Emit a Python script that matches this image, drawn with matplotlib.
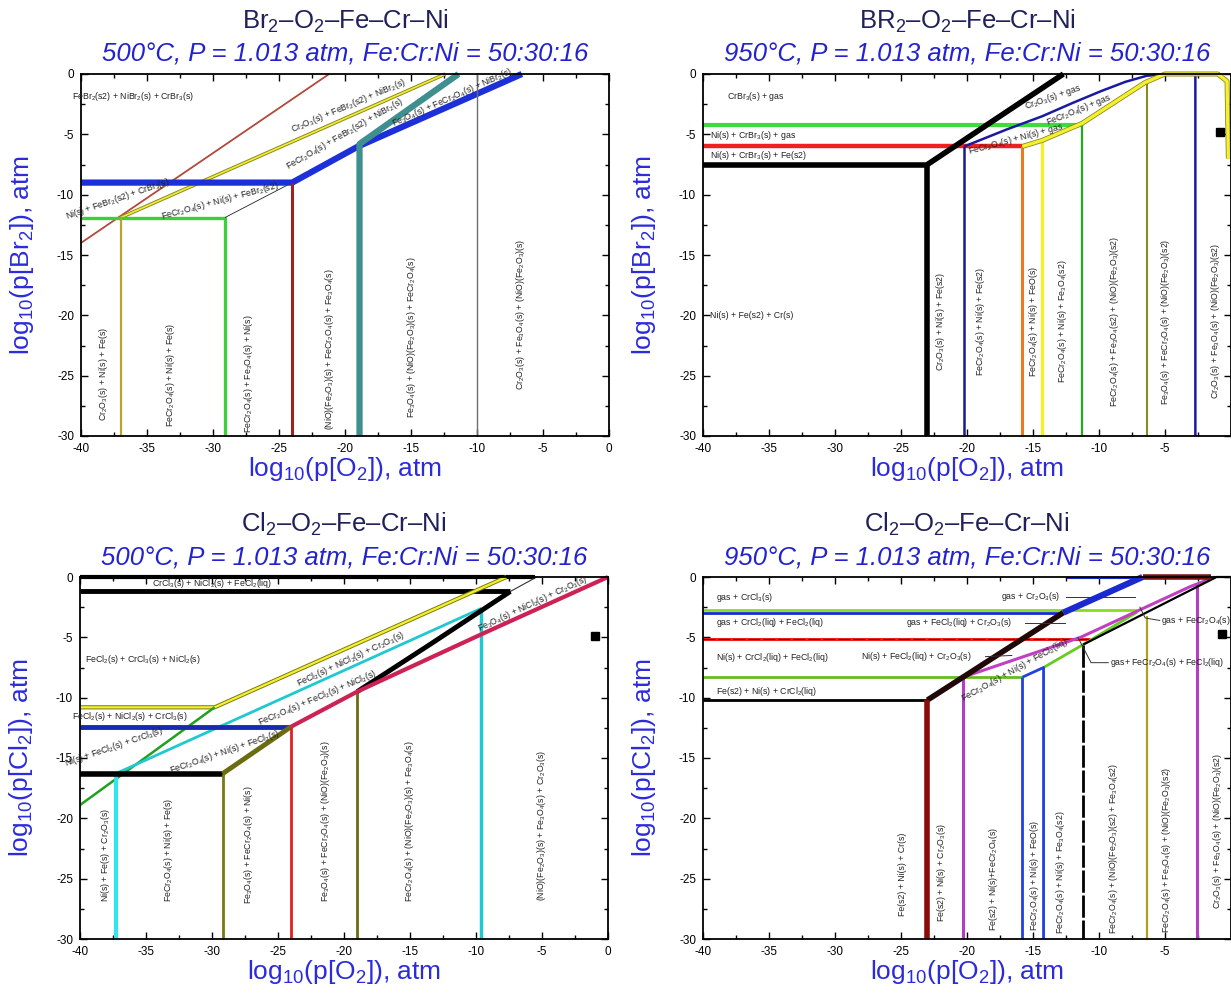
import re
import matplotlib
matplotlib.use("Agg")
import matplotlib.pyplot as plt
import matplotlib.patheffects as pe
from matplotlib.ticker import MultipleLocator, FuncFormatter

plt.rcParams['font.family'] = ['Liberation Sans', 'DejaVu Sans']
plt.rcParams['mathtext.fontset'] = 'custom'
plt.rcParams['mathtext.rm'] = 'Liberation Sans'
plt.rcParams['mathtext.it'] = 'Liberation Sans:italic'
plt.rcParams['mathtext.bf'] = 'Liberation Sans:bold'
plt.rcParams['axes.unicode_minus'] = False

# ---------------- data: Br2, 500 C ----------------
br500_lines = {
    'brick': ([-40, -21.2], [-14.0, 0]),
    'yellow': ([-37, -12.4], [-11.9, 0]),
    'green': ([-40, -29.1, -29.1], [-11.9, -11.9, -30]),
    'olive': ([-37, -37], [-11.9, -30]),
    'thin': ([-29.1, -24, -19], [-11.9, -9.0, -5.8]),
    'blue': ([-40, -24, -19, -6.6], [-9.0, -9.0, -6.0, 0]),
    'maroon': ([-24, -24], [-9.0, -30]),
    'teal': ([-11.4, -18.9, -18.9], [0, -5.8, -30]),
    'grey': ([-10, -10], [0, -30]),
}
br500_labels = [
    ("FeBr_2(s2) + NiBr_2(s) + CrBr_3(s)", -40.7, -1.9, 0, 'left'),
    ("Cr_2O_3(s) + FeBr_2(s2) + NiBr_2(s)", -19.7, -2.6, 23, 'center'),
    ("FeCr_2O_4(s) + FeBr_2(s2) + NiBr_2(s)", -20.0, -5.0, 30, 'center'),
    ("Fe_3O_4(s) + FeCr_2O_4(s) + NiBr_2(s)", -11.9, -1.9, 24, 'center'),
    ("Ni(s) + FeBr_2(s2) + CrBr_3(s)", -37.2, -10.4, 19, 'center'),
    ("FeCr_2O_4(s) + Ni(s) + FeBr_2(s2)", -29.5, -10.5, 15, 'center'),
]
br500_vlabels = [
    ("Cr_2O_3(s) + Ni(s) + Fe(s)", -38.3, -24.9),
    ("FeCr_2O_4(s) + Ni(s) + Fe(s)", -33.2, -24.9),
    ("FeCr_2O_4(s) + Fe_3O_4(s) + Ni(s)", -27.3, -24.8),
    ("(NiO)(Fe_2O_3)(s) + FeCr_2O_4(s) + Fe_3O_4(s)", -21.2, -22.8),
    ("Fe_3O_4(s) + (NiO)(Fe_2O_3)(s) + FeCr_2O_4(s)", -15.0, -21.8),
    ("Cr_2O_3(s) + Fe_3O_4(s) + (NiO)(Fe_2O_3)(s)", -6.7, -19.9),
]

# ---------------- data: Br2, 950 C ----------------
br950_lines = {
    'green_h': ([-40, -11.3], [-4.2, -4.2]),
    'green_v': ([-11.3, -11.3], [-4.2, -30]),
    'red': ([-40, -15.8], [-6.0, -6.0]),
    'orange': ([-15.8, -15.8], [-6.0, -30]),
    'navy_v': ([-20.2, -20.2], [-6.0, -30]),
    'navy': ([-20.2, -17, -14.3, -12, -9.8, -8, -6.4, -5, -2.7, -2.7],
             [-6.0, -4.6, -3.5, -2.4, -1.4, -0.65, -0.15, 0, 0, -30]),
    'yellow_v': ([-14.3, -14.3], [-5.5, -30]),
    'yellow': ([-15.8, -14.3, -11.3, -6.5, -5, -1, -0.3, -0.2],
               [-6.0, -5.5, -4.1, -0.7, 0, 0, -0.6, -7.0]),
    'olive': ([-6.4, -6.4], [-0.8, -30]),
    'black': ([-40, -23, -23], [-7.5, -7.5, -30]),
    'black_d': ([-23, -12.7], [-7.5, 0]),
}
br950_labels = [
    ("CrBr_3(s) + gas", -38.2, -1.9, 0, 'left'),
    ("Ni(s) + CrBr_3(s) + gas", -39.5, -5.1, 0, 'left'),
    ("Ni(s) + CrBr_3(s) + Fe(s2)", -39.5, -6.75, 0, 'left'),
    ("Ni(s) + Fe(s2) + Cr(s)", -39.5, -20.0, 0, 'left'),
    ("Cr_2O_3(s) + gas", -13.5, -1.95, 19, 'center'),
    ("FeCr_2O_4(s) + gas", -11.5, -3.0, 22, 'center'),
    ("FeCr_2O_4(s) + Ni(s) + gas", -16.3, -5.4, 15, 'center'),
]
br950_vlabels = [
    ("Cr_2O_3(s) + Ni(s) + Fe(s2)", -22.0, -20.5),
    ("FeCr_2O_4(s) + Ni(s) + Fe(s2)", -19.0, -20.5),
    ("FeCr_2O_4(s) + Ni(s) + FeO(s)", -15.0, -20.5),
    ("FeCr_2O_4(s) + Ni(s) + Fe_3O_4(s2)", -12.8, -20.5),
    ("FeCr_2O_4(s) + Fe_3O_4(s2) + (NiO)(Fe_2O_3)(s2)", -8.8, -20.5),
    ("Fe_3O_4(s) + FeCr_2O_4(s) + (NiO)(Fe_2O_3)(s2)", -5.0, -20.5),
    ("Cr_2O_3(s) + Fe_3O_4(s) + (NiO)(Fe_2O_3)(s2)", -1.2, -20.5),
]

# ---------------- data: Cl2, 500 C ----------------
cl500_lines = {
    'black_top': ([-40, -5.5], [0, 0]),
    'black_up': ([-40, -7.4], [-1.2, -1.2]),
    'thin': ([-7.4, -5.4], [-1.2, 0]),
    'yellow': ([-40, -29.8, -7.7], [-10.8, -10.8, 0]),
    'green': ([-40, -29.8], [-18.9, -10.8]),
    'cyan_d': ([-37.3, -9.6], [-16.3, -2.6]),
    'cyan_v1': ([-37.3, -37.3], [-16.3, -30]),
    'cyan_v2': ([-9.6, -9.6], [-2.6, -30]),
    'blue': ([-40, -24], [-12.4, -12.4]),
    'black_lo': ([-40, -29.2], [-16.3, -16.3]),
    'olive_d': ([-29.2, -24], [-16.3, -12.4]),
    'olive_v1': ([-29.2, -29.2], [-16.3, -30]),
    'olive_v2': ([-19, -19], [-9.5, -30]),
    'black_d': ([-7.4, -13.5, -19], [-1.2, -5.6, -9.5]),
    'crimson': ([0, -9.5, -19, -24], [0, -4.7, -9.5, -12.4]),
    'red_v': ([-24, -24], [-12.4, -30]),
}
cl500_labels = [
    ("CrCl_3(s) + NiCl_2(s) + FeCl_2(liq)", -30.0, -0.55, 0, 'center'),
    ("FeCl_2(s) + CrCl_3(s) + NiCl_2(s)", -39.6, -6.8, 0, 'left'),
    ("FeCl_2(s) + NiCl_2(s) + CrCl_3(s)", -40.6, -11.6, 0, 'left'),
    ("Ni(s) + FeCl_2(s) + CrCl_3(s)", -37.4, -14.1, 19, 'center'),
    ("FeCr_2O_4(s) + Ni(s) + FeCl_2(s)", -29.0, -14.5, 19, 'center'),
    ("FeCl_2(s) + NiCl_2(s) + Cr_2O_3(s)", -19.5, -6.8, 25, 'center'),
    ("FeCr_2O_4(s) + FeCl_2(s) + NiCl_2(s)", -22.0, -10.0, 23, 'center'),
    ("Fe_3O_4(s) + NiCl_2(s) + Cr_2O_3(s)", -5.7, -2.2, 25, 'center'),
]
cl500_vlabels = [
    ("Ni(s) + Fe(s) + Cr_2O_3(s)", -38.1, -23.0),
    ("FeCr_2O_4(s) + Ni(s) + Fe(s)", -33.3, -22.6),
    ("Fe_3O_4(s) + FeCr_2O_4(s) + Ni(s)", -27.2, -22.2),
    ("Fe_3O_4(s) + FeCr_2O_4(s) + (NiO)(Fe_2O_3)(s)", -21.4, -20.2),
    ("FeCr_2O_4(s) + (NiO)(Fe_2O_3)(s) + Fe_3O_4(s)", -15.0, -20.2),
    ("(NiO)(Fe_2O_3)(s) + Fe_3O_4(s) + Cr_2O_3(s)", -5.0, -20.6),
]

# ---------------- data: Cl2, 950 C ----------------
cl950_lines = {
    'green_top': ([-40, -7.1], [-2.75, -2.75]),
    'blue_h': ([-40, -12.7], [-2.95, -2.95]),
    'blue_top': ([-12.4, -6.7], [-0.05, -0.05]),
    'red_dash': ([-40, -10.7], [-5.1, -5.1]),
    'green_mid': ([-40, -15.8], [-8.3, -8.3]),
    'green_d': ([-14.2, -11.2, -7.1], [-7.5, -5.6, -2.9]),
    'blue_v': ([-15.8, -15.8], [-8.3, -30]),
    'blue_v2': ([-15.8, -14.2, -14.2], [-8.3, -7.5, -30]),
    'magenta': ([-20.3, -11.4, -3.1, -1.2], [-8.3, -5.0, -0.8, 0]),
    'magenta_v1': ([-20.3, -20.3], [-8.3, -30]),
    'magenta_v2': ([-2.6, -2.6], [-0.6, -30]),
    'black_dash': ([-11.2, -11.2], [-5.6, -30]),
    'olive_v': ([-6.4, -6.4], [-3.2, -30]),
    'black_thin': ([-11.2, -1.1, 0], [-5.6, 0, 0]),
    'black_h': ([-40, -23], [-10.2, -10.2]),
    'black_d': ([-23, -12.7], [-10.2, -2.95]),
    'blue_d': ([-12.7, -6.7], [-2.95, 0]),
    'maroon_v': ([-23, -23], [-10.2, -30]),
    'maroon_top': ([-6.7, -1.5], [0, 0]),
}
cl950_leaders = [
    ([-12.5, -7.3], [-1.65, -1.65]),
    ([-15.6, -12.6], [-3.8, -3.8]),
    ([-18.6, -16.6], [-6.6, -6.5]),
    ([-6.9, -6.5, -5.4], [-2.5, -3.4, -3.6]),
    ([-11.6, -10.6, -9.3], [-5.0, -7.1, -7.1]),
]
cl950_labels = [
    ("gas + CrCl_3(s)", -39.0, -1.7, 0, 'left'),
    ("gas + CrCl_2(liq) + FeCl_2(liq)", -39.0, -3.75, 0, 'left'),
    ("Ni(s) + CrCl_2(liq) + FeCl_2(liq)", -39.0, -6.7, 0, 'left'),
    ("Fe(s2) + Ni(s) + CrCl_2(liq)", -39.0, -9.5, 0, 'left'),
    ("gas + Cr_2O_3(s)", -17.4, -1.6, 0, 'left'),
    ("gas + FeCl_2(liq) + Cr_2O_3(s)", -24.6, -3.8, 0, 'left'),
    ("Ni(s) + FeCl_2(liq) + Cr_2O_3(s)", -28.0, -6.6, 0, 'left'),
    ("gas + FeCr_2O_4(s)", -5.3, -3.6, 0, 'left'),
    ("gas+ FeCr_2O_4(s) + FeCl_2(liq)", -9.2, -7.1, 0, 'left'),
    ("FeCr_2O_4(s) + Ni(s) + FeCl_2(liq)", -16.4, -7.7, 29, 'center'),
]
cl950_vlabels = [
    ("Fe(s2) + Ni(s) + Cr(s)", -24.9, -24.6),
    ("Fe(s2) + Ni(s) + Cr_2O_3(s)", -21.9, -24.5),
    ("Fe(s2) + Ni(s)+FeCr_2O_4(s)", -18.0, -25.0),
    ("FeCr_2O_4(s) + Ni(s) + FeO(s)", -14.9, -24.7),
    ("FeCr_2O_4(s) + Ni(s) + Fe_3O_4(s2)", -12.9, -24.5),
    ("FeCr_2O_4(s) + (NiO)(Fe_2O_3)(s2) + Fe_3O_4(s2)", -8.9, -22.5),
    ("FeCr_2O_4(s) + Fe_3O_4(s) + (NiO)(Fe_2O_3)(s2)", -4.9, -22.6),
    ("Cr_2O_3(s) + Fe_3O_4(s) + (NiO)(Fe_2O_3)(s2)", -1.0, -21.0),
]

# black square marker seen near right edge
square_pts = {'br950': (-0.8, -4.8), 'cl500': (-1.0, -4.9), 'cl950': (-0.7, -4.7)}


def edged(color, lw, edge, elw):
    return dict(color=color, lw=lw,
                path_effects=[pe.Stroke(linewidth=elw, foreground=edge), pe.Normal()])


br500_style = {
    'brick': dict(color='#b3483c', lw=1.3),
    'yellow': edged('#f2ec3a', 1.2, '#8c8a1c', 2.6),
    'green': dict(color='#3ccf3c', lw=2.4),
    'olive': dict(color='#b9a52a', lw=1.6),
    'thin': dict(color='#222222', lw=0.6),
    'blue': dict(color='#1c2fd8', lw=4.5),
    'maroon': dict(color='#9c2424', lw=2.2),
    'teal': dict(color='#3f8f8f', lw=4.5),
    'grey': dict(color='#6e6e6e', lw=1.0),
}
br950_style = {
    'green_h': dict(color='#3cdc3c', lw=3.0),
    'green_v': dict(color='#22aa22', lw=1.6),
    'red': dict(color='#ee2020', lw=3.2),
    'orange': dict(color='#f07820', lw=2.2),
    'navy_v': dict(color='#1a1a90', lw=1.8),
    'navy': dict(color='#1a1aa0', lw=1.8),
    'yellow_v': dict(color='#f4f030', lw=2.4),
    'yellow': edged('#f4f030', 2.4, '#8c8a1c', 3.6),
    'olive': dict(color='#8a8a20', lw=1.5),
    'black': dict(color='black', lw=4.0),
    'black_d': dict(color='black', lw=4.0),
}
cl500_style = {
    'black_top': dict(color='black', lw=3.0),
    'black_up': dict(color='black', lw=3.5),
    'thin': dict(color='#333333', lw=0.8),
    'yellow': edged('#f4f030', 1.6, '#7a7a10', 3.0),
    'green': dict(color='#20a020', lw=1.8),
    'cyan_d': dict(color='#20c8d0', lw=2.0),
    'cyan_v1': dict(color='#30e6ee', lw=3.0),
    'cyan_v2': dict(color='#20c8d0', lw=2.5),
    'blue': dict(color='#1a2ab0', lw=3.5),
    'black_lo': dict(color='black', lw=4.0),
    'olive_d': dict(color='#6b6b10', lw=3.5),
    'olive_v1': dict(color='#7a7a10', lw=2.0),
    'olive_v2': dict(color='#6b6b10', lw=2.0),
    'black_d': dict(color='black', lw=3.5),
    'crimson': dict(color='#cc2255', lw=3.0),
    'red_v': dict(color='#e02020', lw=2.0),
}
cl950_style = {
    'green_top': dict(color='#88dd22', lw=2.0),
    'blue_h': dict(color='#1a2ad0', lw=2.0),
    'blue_top': dict(color='#1a2ad0', lw=1.5),
    'red_dash': dict(color='#e82020', lw=2.2),
    'green_mid': dict(color='#66bb22', lw=2.0),
    'green_d': dict(color='#66cc22', lw=2.0),
    'blue_v': dict(color='#2040e0', lw=2.0),
    'blue_v2': dict(color='#2040e0', lw=2.0),
    'magenta': dict(color='#c040c0', lw=2.2),
    'magenta_v1': dict(color='#b040c0', lw=2.2),
    'magenta_v2': dict(color='#b040c0', lw=2.2),
    'black_dash': dict(color='black', lw=2.0, ls=(0, (8, 1))),
    'olive_v': dict(color='#b0a020', lw=1.6),
    'black_thin': dict(color='black', lw=1.6),
    'black_h': dict(color='black', lw=2.0),
    'black_d': dict(color='#200808', lw=4.0),
    'blue_d': dict(color='#1a2ad0', lw=4.5),
    'maroon_v': dict(color='#8b0a0a', lw=4.0),
    'maroon_top': dict(color='#7a1010', lw=4.0),
}


def chem(s):
    return re.sub(r'_(\d+)', r'$_{\1}$', s)


fig = plt.figure(figsize=(12.31, 9.98), dpi=100)
W, H = 1231.0, 998.0
AX_W, AX_H = 528, 362
LBL = 6.3


def xfmt(v, pos, hide_zero):
    if hide_zero and abs(v) < 1e-9:
        return ''
    return f"{v:.0f}"


def panel(rect_px, lines, styles, labels, vlabels, title, subtitle, yname,
          square=None, hide_zero=False):
    left, top = rect_px
    ax = fig.add_axes([left / W, 1 - (top + AX_H) / H, AX_W / W, AX_H / H])
    for name, (xs, ys) in lines.items():
        ax.plot(xs, ys, clip_on=False, solid_capstyle='butt', **styles[name])
        if name == 'red_dash':
            ax.plot(xs, ys, color='#111111', lw=0.6, ls=(0, (14, 4)), clip_on=False)
    for text, x, y, rot, ha in labels:
        ax.text(x, y, chem(text), fontsize=LBL, color='#222222', rotation=rot,
                ha=ha, va='center', rotation_mode='anchor', clip_on=False)
    for text, x, y in vlabels:
        ax.text(x, y, chem(text), fontsize=LBL, color='#222222', rotation=90,
                ha='center', va='center')
    if square is not None:
        ax.plot(*square, marker='s', ms=6, color='black', clip_on=False)
    ax.set_xlim(-40, 0)
    ax.set_ylim(-30, 0)
    ax.xaxis.set_major_locator(MultipleLocator(5))
    ax.xaxis.set_minor_locator(MultipleLocator(2.5))
    ax.yaxis.set_major_locator(MultipleLocator(5))
    ax.yaxis.set_minor_locator(MultipleLocator(2.5))
    ax.xaxis.set_major_formatter(FuncFormatter(lambda v, p: xfmt(v, p, hide_zero)))
    ax.tick_params(which='both', direction='in', top=True, right=True,
                   labelsize=8.5, width=1.0, pad=5)
    ax.tick_params(which='major', length=5)
    ax.tick_params(which='minor', length=3)
    for sp in ax.spines.values():
        sp.set_linewidth(1.3)
    ax.set_ylabel(f"log$_{{10}}$(p[{yname}]), atm", fontsize=19, color='#2b2bdc')
    ax.yaxis.set_label_coords(-0.085, 0.5)
    ax.set_xlabel("log$_{10}$(p[O$_2$]), atm", fontsize=19, color='#2b2bdc')
    ax.xaxis.set_label_coords(0.5, -0.052)
    cx = (left + AX_W / 2) / W
    fig.text(cx, 1 - (top - 53) / H, chem(title), fontsize=18.5, color='#20205a',
             ha='center', va='center')
    fig.text(cx, 1 - (top - 20) / H, subtitle, fontsize=18.5, color='#2222d0',
             style='italic', ha='center', va='center')
    return ax


sub500 = "500°C, P = 1.013 atm, Fe:Cr:Ni = 50:30:16"
sub950 = "950°C, P = 1.013 atm, Fe:Cr:Ni = 50:30:16"

panel((81, 74), br500_lines, br500_style, br500_labels, br500_vlabels,
      "Br_2–O_2–Fe–Cr–Ni", sub500, "Br$_2$")
panel((703, 74), br950_lines, br950_style, br950_labels, br950_vlabels,
      "BR_2–O_2–Fe–Cr–Ni", sub950, "Br$_2$", square_pts['br950'], True)
panel((80, 577), cl500_lines, cl500_style, cl500_labels, cl500_vlabels,
      "Cl_2–O_2–Fe–Cr–Ni", sub500, "Cl$_2$", square_pts['cl500'])
ax4 = panel((703, 577), cl950_lines, cl950_style, cl950_labels, cl950_vlabels,
            "Cl_2–O_2–Fe–Cr–Ni", sub950, "Cl$_2$", square_pts['cl950'], True)
for xs, ys in cl950_leaders:
    ax4.plot(xs, ys, color='#333333', lw=0.7)

fig.savefig("out.png", dpi=100)
